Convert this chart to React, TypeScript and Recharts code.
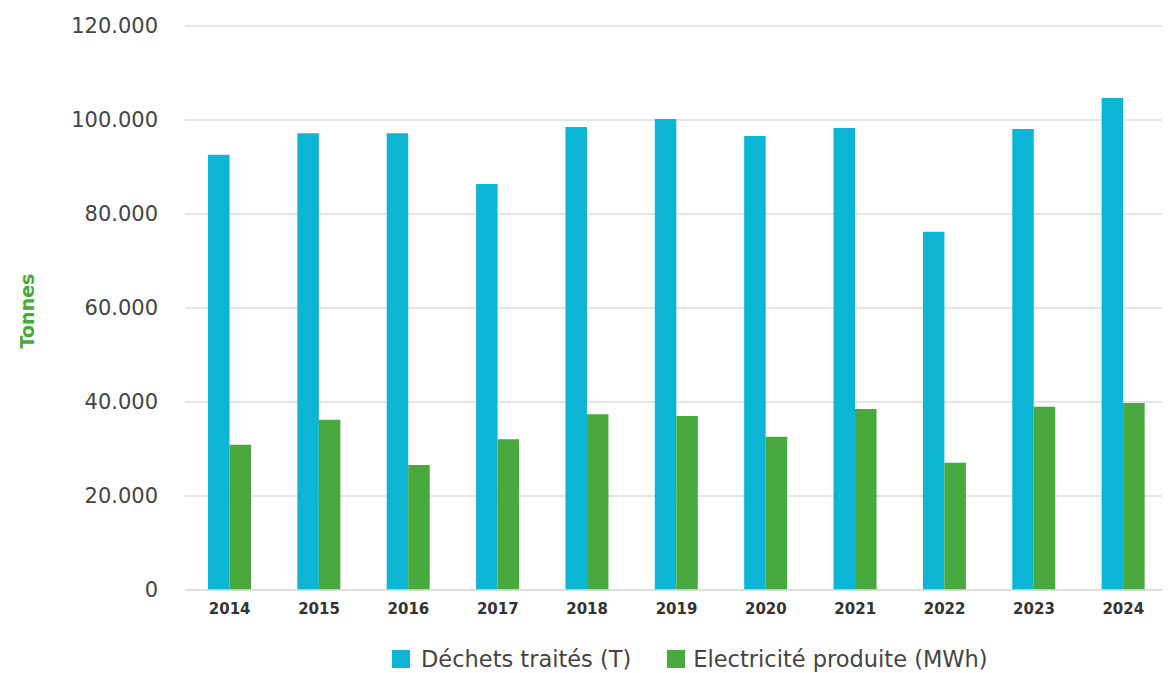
import { BarChart, Bar, XAxis, YAxis, CartesianGrid, Legend } from 'recharts';

// Years and values
const years = ['2014', '2015', '2016', '2017', '2018', '2019', '2020', '2021', '2022', '2023', '2024'];
const dechets = [92600, 97200, 97200, 86400, 98500, 100200, 96600, 98300, 76200, 98100, 104700];
const electricite = [30900, 36200, 26600, 32100, 37400, 37000, 32600, 38500, 27100, 39000, 39800];
const yTicks = [0, 20000, 40000, 60000, 80000, 100000, 120000];

const BLUE = '#0cb5d4';
const GREEN = '#49a83e';
const FONT = '"DejaVu Sans", sans-serif';

const data = years.map((year, i) => ({
  year,
  dechets: dechets[i],
  electricite: electricite[i],
}));

const fmt = (v: number) => String(v).replace(/\B(?=(\d{3})+(?!\d))/g, '.');

function renderLegend() {
  const items = [
    { name: 'Déchets traités (T)', color: BLUE },
    { name: 'Electricité produite (MWh)', color: GREEN },
  ];
  return (
    <div style={{ display: 'flex', alignItems: 'center', fontFamily: FONT, fontSize: 22.5, color: '#444' }}>
      {items.map((it, i) => (
        <div key={it.name} style={{ display: 'flex', alignItems: 'center', marginRight: i === 0 ? 36 : 0 }}>
          <span style={{ display: 'inline-block', width: 18, height: 18, background: it.color, marginRight: i === 0 ? 11 : 8 }} />
          <span>{it.name}</span>
        </div>
      ))}
    </div>
  );
}

// rotated "Tonnes" label on the left
function TonnesLabel(props: any) {
  const { viewBox } = props;
  const x = viewBox.x + 19;
  const y = viewBox.y + viewBox.height / 2 + 3;
  return (
    <text
      x={x}
      y={y}
      transform={`rotate(-90, ${x}, ${y})`}
      textAnchor="middle"
      dominantBaseline="central"
      fill={GREEN}
      fontFamily={FONT}
      fontWeight="bold"
      fontSize={19}
    >
      Tonnes
    </text>
  );
}

export default function App() {
  return (
    <BarChart
      width={1162}
      height={665}
      data={data}
      margin={{ top: 18, right: 2, left: 0, bottom: 53 }}
      barGap={0}
      barSize={21.5}
    >
      <CartesianGrid vertical={false} stroke="#dddddd" strokeWidth={1.5} />
      <XAxis
        dataKey="year"
        height={30}
        tickLine={false}
        tickSize={0}
        tickMargin={13}
        axisLine={{ stroke: '#dddddd', strokeWidth: 1.5 }}
        tick={{ fill: '#333', fontFamily: FONT, fontWeight: 'bold', fontSize: 15 }}
      />
      <YAxis
        width={177}
        domain={[0, 120000]}
        ticks={yTicks}
        tickFormatter={fmt}
        axisLine={false}
        tickLine={false}
        tickSize={0}
        tickMargin={27}
        tick={{ fill: '#444', fontFamily: FONT, fontSize: 21 }}
        label={<TonnesLabel />}
      />
      <Legend
        verticalAlign="middle"
        align="center"
        content={renderLegend}
        wrapperStyle={{ top: 638, left: 384, width: 'auto' }}
      />
      <Bar dataKey="dechets" name="Déchets traités (T)" fill={BLUE} isAnimationActive={false} />
      <Bar dataKey="electricite" name="Electricité produite (MWh)" fill={GREEN} isAnimationActive={false} />
    </BarChart>
  );
}
